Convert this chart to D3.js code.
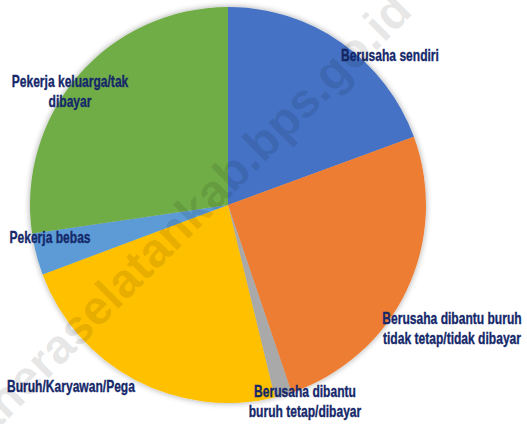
<!DOCTYPE html>
<html>
<head>
<meta charset="utf-8">
<script src="https://cdn.jsdelivr.net/npm/d3@7"></script>
<style>
  body { margin: 0; background: #fff; }
  .lbl { font-family: "Liberation Sans", Arial, sans-serif; font-weight: bold; font-size: 16.3px; fill: #15286a; stroke: #15286a; stroke-width: 0.35px; }
</style>
</head>
<body>
<div id="chart"></div>
<script>
// categories and shares (%), clockwise from 12 o'clock
const categories = [
  "Berusaha sendiri",
  "Berusaha dibantu buruh tidak tetap/tidak dibayar",
  "Berusaha dibantu buruh tetap/dibayar",
  "Buruh/Karyawan/Pegawai",
  "Pekerja bebas",
  "Pekerja keluarga/tak dibayar"
];
const shares = [19.4, 25.4, 1.4, 23.1, 3.4, 27.3];
const colors = ["#4472C4", "#ED7D31", "#A9A9A9", "#FFC000", "#5B9BD5", "#70AD47"];

// label text lines as shown (the Buruh label is cut off in the original)
const labelLines = [
  ["Berusaha sendiri"],
  ["Berusaha dibantu buruh", "tidak tetap/tidak dibayar"],
  ["Berusaha dibantu", "buruh tetap/dibayar"],
  ["Buruh/Karyawan/Pega"],
  ["Pekerja bebas"],
  ["Pekerja keluarga/tak", "dibayar"]
];

const width = 527, height = 424;
const cx = 228, cy = 205, radius = 198;
const squeeze = 0.74;   // condensed look of the original font

// label placement (x, first baseline, anchor)
const labelLayout = [
  {x: 390, y: 61, anchor: "middle"},
  {x: 452, y: 324, anchor: "middle"},
  {x: 305, y: 397, anchor: "middle"},
  {x: 7, y: 392, anchor: "start"},
  {x: 50, y: 243, anchor: "middle"},
  {x: 70, y: 87, anchor: "middle"}
];

const svg = d3.select("#chart").append("svg")
    .attr("width", width)
    .attr("height", height);

// soft shadow like the original
const defs = svg.append("defs");
const f = defs.append("filter").attr("id", "shadow")
    .attr("x", "-10%").attr("y", "-10%").attr("width", "120%").attr("height", "120%");
f.append("feGaussianBlur").attr("in", "SourceAlpha").attr("stdDeviation", 3).attr("result", "b");
f.append("feComponentTransfer").attr("in", "b").attr("result", "b2")
  .append("feFuncA").attr("type", "linear").attr("slope", 0.35);
const m = f.append("feMerge");
m.append("feMergeNode").attr("in", "b2");
m.append("feMergeNode").attr("in", "SourceGraphic");

const pie = d3.pie().sort(null).value(d => d);
const arc = d3.arc().innerRadius(0).outerRadius(radius);

const g = svg.append("g")
    .attr("transform", "translate(" + cx + "," + cy + ")")
    .attr("filter", "url(#shadow)");

g.selectAll("path")
    .data(pie(shares))
    .enter()
    .append("path")
    .attr("d", arc)
    .attr("fill", (d, i) => colors[i]);

// labels
const labels = svg.selectAll(".lbl")
    .data(labelLines)
    .enter()
    .append("text")
    .attr("class", "lbl")
    .attr("text-anchor", (d, i) => labelLayout[i].anchor)
    .attr("transform", (d, i) => "translate(" + labelLayout[i].x + "," + labelLayout[i].y + ") scale(" + squeeze + ",1)");

labels.each(function(lines, i) {
    d3.select(this).selectAll("tspan")
        .data(lines)
        .enter()
        .append("tspan")
        .attr("x", 0)
        .attr("dy", (l, j) => j == 0 ? 0 : 20)
        .text(l => l);
});

// watermark
svg.append("text")
    .attr("transform", "translate(414,13) rotate(-45)")
    .attr("text-anchor", "end")
    .style("font-family", "'Liberation Sans', Arial, sans-serif")
    .style("font-weight", "bold")
    .style("font-size", "48px")
    .style("fill", "#000")
    .style("fill-opacity", 0.11)
    .text("halmaheraselatankab.bps.go.id");
</script>
</body>
</html>
